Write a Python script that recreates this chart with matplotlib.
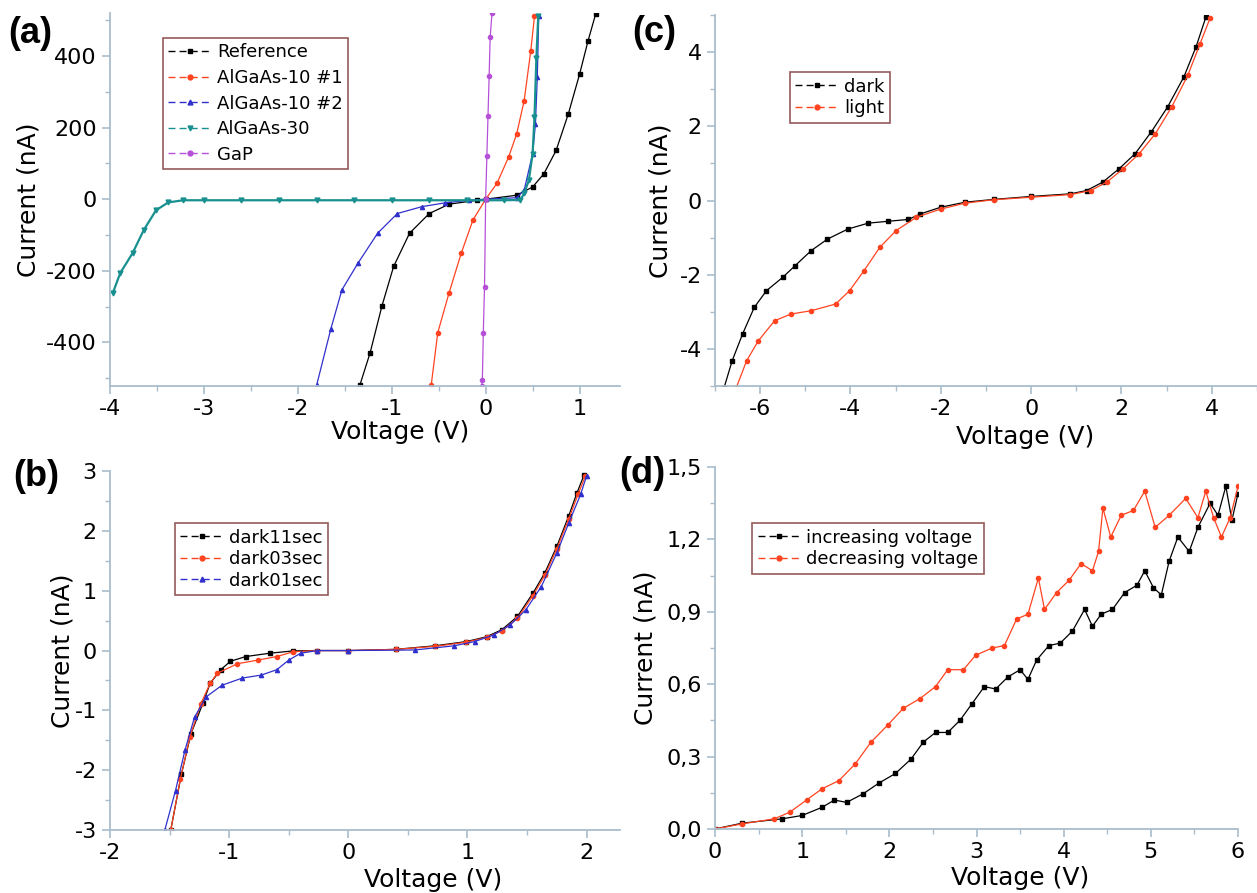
import matplotlib
matplotlib.use("Agg")
import matplotlib.pyplot as plt
from matplotlib.lines import Line2D
from matplotlib.ticker import AutoMinorLocator, FuncFormatter, MultipleLocator

plt.rcParams["font.family"] = ["DejaVu Sans"]
plt.rcParams["axes.unicode_minus"] = False

# ---- panel (a): I-V of the different samples ----
ref_v = [-1.34, -1.23, -1.105, -0.98, -0.81, -0.60, -0.39, -0.09, 0.0, 0.33, 0.50, 0.62, 0.75, 0.88, 1.0, 1.09, 1.17]
ref_i = [-520, -429, -299, -188, -95, -40, -14, -3, 0, 11, 34, 71, 136, 238, 349, 442, 516]
a10a_v = [-0.58, -0.51, -0.39, -0.26, -0.135, 0.0, 0.12, 0.245, 0.33, 0.41, 0.48, 0.52]
a10a_i = [-520, -373, -262, -151, -58, 0, 44, 118, 182, 275, 414, 511]
a10b_v = [-1.80, -1.65, -1.53, -1.36, -1.15, -0.94, -0.68, -0.43, -0.18, 0.0, 0.33, 0.41, 0.50, 0.53, 0.55, 0.565]
a10b_i = [-520, -364, -253, -179, -95, -40, -21, -10, -3, 0, 4, 25, 127, 210, 340, 511]
a30_v = [-3.97, -3.89, -3.76, -3.64, -3.51, -3.38, -3.22, -3.0, -2.6, -2.2, -1.8, -1.4, -1.0, -0.6, -0.2, 0.2, 0.37, 0.41, 0.46, 0.50, 0.52, 0.54, 0.56]
a30_i = [-262, -206, -151, -86, -31, -9, -3, -3, -3, -3, -3, -3, -3, -3, -3, -3, -2, 16, 53, 127, 229, 395, 511]
gap_v = [-0.042, -0.035, -0.025, -0.012, 0.0, 0.013, 0.025, 0.037, 0.048, 0.068]
gap_i = [-522, -505, -373, -245, 0, 121, 232, 343, 453, 520]

# ---- panel (b): dark curves, different integration times ----
d11_v = [-1.49, -1.40, -1.32, -1.22, -1.16, -1.07, -0.99, -0.86, -0.66, -0.46, -0.26, 0.0, 0.40, 0.73, 0.99, 1.16, 1.29, 1.42, 1.55, 1.65, 1.75, 1.85, 1.92, 1.98]
d11_i = [-3.0, -2.06, -1.39, -0.88, -0.55, -0.32, -0.18, -0.10, -0.045, -0.005, 0.0, 0.0, 0.02, 0.08, 0.15, 0.23, 0.35, 0.57, 0.96, 1.30, 1.74, 2.25, 2.64, 2.94]
d03_v = [-1.49, -1.41, -1.33, -1.24, -1.16, -1.10, -0.93, -0.76, -0.60, -0.46, -0.26, 0.0, 0.40, 0.73, 0.99, 1.16, 1.29, 1.42, 1.55, 1.65, 1.75, 1.85, 1.93, 1.99]
d03_i = [-3.0, -2.15, -1.45, -0.90, -0.55, -0.38, -0.22, -0.16, -0.10, -0.02, 0.0, 0.0, 0.02, 0.07, 0.14, 0.22, 0.33, 0.54, 0.92, 1.26, 1.70, 2.20, 2.62, 2.92]
d01_v = [-1.54, -1.45, -1.37, -1.29, -1.19, -1.06, -0.89, -0.73, -0.60, -0.50, -0.40, -0.26, 0.0, 0.56, 0.89, 1.06, 1.22, 1.36, 1.49, 1.62, 1.75, 1.85, 1.95, 2.0]
d01_i = [-3.0, -2.34, -1.66, -1.11, -0.77, -0.58, -0.46, -0.41, -0.32, -0.16, -0.045, 0.0, 0.0, 0.01, 0.08, 0.15, 0.26, 0.43, 0.68, 1.07, 1.63, 2.13, 2.61, 2.92]

# ---- panel (c): dark vs light ----
dark_v = [-6.80, -6.62, -6.39, -6.13, -5.86, -5.50, -5.23, -4.87, -4.51, -4.06, -3.61, -3.17, -2.72, -2.45, -2.0, -1.46, -0.83, 0.0, 0.87, 1.23, 1.59, 1.95, 2.30, 2.66, 3.02, 3.38, 3.65, 3.87]
dark_i = [-5.05, -4.32, -3.60, -2.88, -2.43, -2.07, -1.76, -1.35, -1.04, -0.77, -0.61, -0.56, -0.51, -0.36, -0.18, -0.045, 0.03, 0.11, 0.18, 0.27, 0.50, 0.86, 1.26, 1.85, 2.52, 3.33, 4.14, 4.95]
light_v = [-6.53, -6.30, -6.04, -5.68, -5.32, -4.87, -4.33, -4.02, -3.70, -3.35, -2.99, -2.54, -2.0, -1.46, -0.83, 0.0, 0.87, 1.32, 1.68, 2.04, 2.39, 2.75, 3.11, 3.47, 3.74, 3.96]
light_i = [-5.05, -4.32, -3.78, -3.24, -3.06, -2.97, -2.79, -2.43, -1.89, -1.26, -0.81, -0.45, -0.23, -0.07, 0.02, 0.09, 0.16, 0.27, 0.50, 0.86, 1.26, 1.80, 2.52, 3.38, 4.23, 4.91]

# ---- panel (d): voltage sweep up / down ----
up_v = [0.0, 0.31, 0.77, 1.0, 1.23, 1.37, 1.51, 1.70, 1.88, 2.07, 2.25, 2.39, 2.53, 2.67, 2.81, 2.95, 3.09, 3.22, 3.36, 3.50, 3.59, 3.69, 3.83, 3.96, 4.10, 4.24, 4.33, 4.43, 4.56, 4.70, 4.84, 4.93, 5.03, 5.12, 5.21, 5.31, 5.44, 5.54, 5.68, 5.77, 5.86, 5.93, 6.0]
up_i = [0.0, 0.024, 0.042, 0.056, 0.09, 0.12, 0.11, 0.146, 0.19, 0.23, 0.29, 0.36, 0.40, 0.40, 0.45, 0.52, 0.59, 0.58, 0.63, 0.66, 0.62, 0.70, 0.76, 0.77, 0.82, 0.91, 0.84, 0.89, 0.91, 0.98, 1.01, 1.07, 1.00, 0.97, 1.11, 1.21, 1.15, 1.25, 1.35, 1.30, 1.42, 1.28, 1.39]
down_v = [0.0, 0.31, 0.68, 0.86, 1.05, 1.23, 1.42, 1.61, 1.79, 1.98, 2.16, 2.35, 2.53, 2.67, 2.85, 2.99, 3.18, 3.32, 3.46, 3.59, 3.71, 3.78, 3.92, 4.06, 4.20, 4.33, 4.40, 4.45, 4.54, 4.66, 4.80, 4.93, 5.05, 5.21, 5.40, 5.54, 5.63, 5.72, 5.81, 5.91, 6.0]
down_i = [0.0, 0.021, 0.042, 0.07, 0.12, 0.167, 0.20, 0.27, 0.36, 0.43, 0.50, 0.54, 0.59, 0.66, 0.66, 0.72, 0.75, 0.76, 0.87, 0.89, 1.04, 0.91, 0.98, 1.03, 1.10, 1.07, 1.15, 1.33, 1.21, 1.30, 1.32, 1.40, 1.25, 1.30, 1.37, 1.29, 1.40, 1.29, 1.21, 1.29, 1.42]

BLK, RED, BLU, TEAL, PUR = "#000000", "#ff4320", "#3030cc", "#18908f", "#b650d8"
SPINE = "#a9bdcc"

fig = plt.figure(figsize=(12.57, 8.93), dpi=100)
ax_a = fig.add_axes([0.0875, 0.5677, 0.4057, 0.4177])
ax_b = fig.add_axes([0.0875, 0.0705, 0.4057, 0.4020])
ax_c = fig.add_axes([0.5688, 0.5677, 0.4312, 0.4155])
ax_d = fig.add_axes([0.5688, 0.0717, 0.4161, 0.4053])


def style(ax, ylab_x, xlab_xy):
    for s in ["top", "right"]:
        ax.spines[s].set_visible(False)
    for s in ["left", "bottom"]:
        ax.spines[s].set_color(SPINE)
        ax.spines[s].set_linewidth(1.3)
    ax.xaxis.set_minor_locator(AutoMinorLocator(2))
    ax.yaxis.set_minor_locator(AutoMinorLocator(2))
    ax.tick_params(which="major", direction="out", length=6, width=1.2, color=SPINE, labelsize=16)
    ax.tick_params(which="minor", direction="out", length=3.5, width=1.0, color=SPINE)
    ax.set_xlabel("Voltage (V)", fontsize=18)
    ax.set_ylabel("Current (nA)", fontsize=18)
    ax.yaxis.set_label_coords(ylab_x, 0.5)
    ax.xaxis.set_label_coords(*xlab_xy)


def leg(ax, items, anchor, spacing=0.2):
    hs = [Line2D([], [], color=c, marker=m, ms=3.5, lw=1, ls=(0, (5, 3))) for c, m, _ in items]
    lg = ax.legend(hs, [t for _, _, t in items], loc="upper left", bbox_to_anchor=anchor,
                   fontsize=13, frameon=True, fancybox=False, handlelength=2.4,
                   handletextpad=0.3, borderpad=0.3, labelspacing=spacing, borderaxespad=0)
    lg.get_frame().set_edgecolor("#7a3030")
    lg.get_frame().set_linewidth(1.2)


kw = dict(lw=0.9, ms=3)

# (a)
ax_a.plot(ref_v, ref_i, color=BLK, marker="s", ms=2.5, lw=0.9)
ax_a.plot(a10a_v, a10a_i, color=RED, marker="o", **kw)
ax_a.plot(a10b_v, a10b_i, color=BLU, marker="^", **kw)
ax_a.plot(a30_v, a30_i, color=TEAL, marker="v", lw=1.6, ms=3.5)
ax_a.plot(gap_v, gap_i, color=PUR, marker="o", **kw)
ax_a.set_xlim(-4, 1.43)
ax_a.set_ylim(-522, 520)
ax_a.xaxis.set_major_locator(MultipleLocator(1))
ax_a.yaxis.set_major_locator(MultipleLocator(200))
style(ax_a, -0.137, (0.569, -0.09))
leg(ax_a, [(BLK, "s", "Reference"), (RED, "o", "AlGaAs-10 #1"), (BLU, "^", "AlGaAs-10 #2"),
           (TEAL, "v", "AlGaAs-30"), (PUR, "o", "GaP")], (0.104, 0.933), spacing=0.42)

# (b)
ax_b.plot(d11_v, d11_i, color=BLK, marker="s", ms=2.5, lw=0.9)
ax_b.plot(d03_v, d03_i, color=RED, marker="o", **kw)
ax_b.plot(d01_v, d01_i, color=BLU, marker="^", **kw)
ax_b.set_xlim(-2, 2.28)
ax_b.set_ylim(-3, 3)
ax_b.xaxis.set_major_locator(MultipleLocator(1))
ax_b.yaxis.set_major_locator(MultipleLocator(1))
style(ax_b, -0.07, (0.633, -0.106))
leg(ax_b, [(BLK, "s", "dark11sec"), (RED, "o", "dark03sec"), (BLU, "^", "dark01sec")], (0.127, 0.855))

# (c)
ax_c.plot(dark_v, dark_i, color=BLK, marker="s", ms=2.5, lw=0.9)
ax_c.plot(light_v, light_i, color=RED, marker="o", **kw)
ax_c.set_xlim(-7, 5)
ax_c.set_ylim(-5, 5)
ax_c.xaxis.set_major_locator(MultipleLocator(2))
ax_c.yaxis.set_major_locator(MultipleLocator(2))
style(ax_c, -0.0775, (0.572, -0.105))
leg(ax_c, [(BLK, "s", "dark"), (RED, "o", "light")], (0.138, 0.846))

# (d)
ax_d.plot(up_v, up_i, color=BLK, marker="s", ms=2.5, lw=0.9)
ax_d.plot(down_v, down_i, color=RED, marker="o", **kw)
ax_d.set_xlim(0, 6)
ax_d.set_ylim(0, 1.5)
ax_d.xaxis.set_major_locator(MultipleLocator(1))
ax_d.yaxis.set_major_locator(MultipleLocator(0.3))
ax_d.yaxis.set_major_formatter(FuncFormatter(lambda v, p: f"{v:.1f}".replace(".", ",")))
style(ax_d, -0.109, (0.583, -0.102))
leg(ax_d, [(BLK, "s", "increasing voltage"), (RED, "o", "decreasing voltage")], (0.071, 0.845))

for lab, x, y in [("(a)", 0.0064, 0.963), ("(c)", 0.503, 0.964), ("(b)", 0.0103, 0.466), ("(d)", 0.4925, 0.470)]:
    fig.text(x, y, lab, fontsize=26, fontweight="bold", va="center", ha="left",
             family="Liberation Sans")

fig.savefig("out.png", dpi=100)
